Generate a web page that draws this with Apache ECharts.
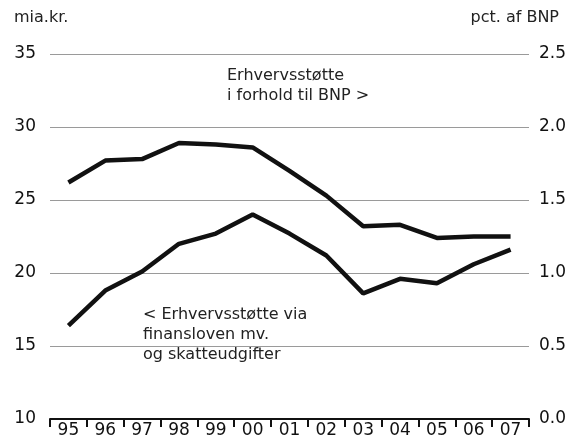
<!DOCTYPE html>
<html>
<head>
<meta charset="utf-8">
<script src="https://cdn.jsdelivr.net/npm/echarts@6/dist/echarts.min.js"></script>
<style>
  html, body { margin: 0; padding: 0; background: #fff; }
  #chart { width: 573px; height: 448px; }
</style>
</head>
<body>
<div id="chart"></div>
<script>
// år (akse-labels)
const years = ['95', '96', '97', '98', '99', '00', '01', '02', '03', '04', '05', '06', '07']
// erhvervsstøtte via finansloven mv. og skatteudgifter, mia.kr. (venstre akse)
const stotteMia = [16.4, 18.8, 20.1, 22.0, 22.7, 24.0, 22.7, 21.2, 18.6, 19.6, 19.3, 20.6, 21.6]
// erhvervsstøtte i forhold til BNP, pct. (højre akse)
const stottePct = [1.62, 1.77, 1.78, 1.89, 1.88, 1.86, 1.70, 1.53, 1.32, 1.33, 1.24, 1.25, 1.25]

const font = 'DejaVu Sans'
const chart = echarts.init(document.getElementById('chart'))

const option = {
  animation: false,
  grid: { left: 50, right: 44, top: 54, bottom: 29 },
  xAxis: {
    type: 'category',
    data: years,
    axisLine: { lineStyle: { color: '#111', width: 2 } },
    axisTick: { show: true, length: 8, lineStyle: { color: '#111', width: 2 } },
    axisLabel: { color: '#111', fontFamily: font, fontSize: 17, margin: 3 }
  },
  yAxis: [
    {
      type: 'value',
      min: 10,
      max: 35,
      interval: 5,
      axisLine: { show: false },
      axisTick: { show: false },
      axisLabel: { color: '#111', fontFamily: font, fontSize: 17, margin: 14 },
      splitLine: { lineStyle: { color: '#9a9a9a', width: 1 } }
    },
    {
      type: 'value',
      min: 0,
      max: 2.5,
      interval: 0.5,
      axisLine: { show: false },
      axisTick: { show: false },
      axisLabel: {
        color: '#111', fontFamily: font, fontSize: 17, margin: 10,
        formatter: v => v.toFixed(1)
      },
      splitLine: { show: false }
    }
  ],
  series: [
    {
      name: 'mia.kr.',
      type: 'line',
      yAxisIndex: 0,
      data: stotteMia,
      symbol: 'none',
      lineStyle: { color: '#111', width: 4.5 }
    },
    {
      name: 'pct. af BNP',
      type: 'line',
      yAxisIndex: 1,
      data: stottePct,
      symbol: 'none',
      lineStyle: { color: '#111', width: 4.5 }
    }
  ],
  graphic: [
    {
      type: 'text', left: 14, top: 10,
      style: { text: 'mia.kr.', font: '16px "DejaVu Sans"', fill: '#222' }
    },
    {
      type: 'text', right: 14, top: 10,
      style: { text: 'pct. af BNP', font: '16px "DejaVu Sans"', fill: '#222' }
    },
    {
      type: 'text', left: 227, top: 66,
      style: { text: 'Erhvervsstøtte\ni forhold til BNP >', font: '16px "DejaVu Sans"', fill: '#222', lineHeight: 20 }
    },
    {
      type: 'text', left: 143, top: 305,
      style: { text: '< Erhvervsstøtte via\nfinansloven mv.\nog skatteudgifter', font: '16px "DejaVu Sans"', fill: '#222', lineHeight: 20 }
    }
  ]
}

chart.setOption(option)
</script>
</body>
</html>
